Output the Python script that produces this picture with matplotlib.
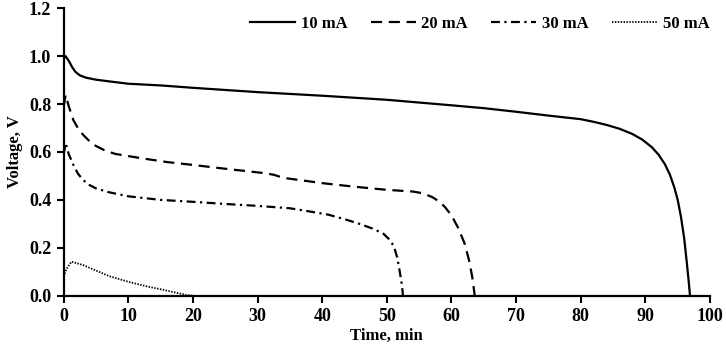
import matplotlib
matplotlib.use("Agg")
import matplotlib.pyplot as plt
from matplotlib.ticker import FormatStrFormatter, MultipleLocator

plt.rcParams['font.family'] = ['Liberation Serif', 'DejaVu Serif']
plt.rcParams['font.weight'] = 'bold'

# 10 mA
t10 = [0, 0.3, 0.8, 1.3, 1.8, 2.5, 3.5, 5, 7, 10, 15, 20, 30, 40, 50, 60, 65, 70, 75,
       80, 82, 84, 86, 88, 89.5, 91, 92, 93, 93.8, 94.5, 95, 95.5, 96, 96.4, 96.7, 96.9]
v10 = [0.99, 1.0, 0.98, 0.955, 0.935, 0.92, 0.91, 0.902, 0.895, 0.885, 0.878, 0.868,
       0.85, 0.835, 0.818, 0.795, 0.783, 0.768, 0.752, 0.737, 0.726, 0.713, 0.697,
       0.675, 0.652, 0.62, 0.59, 0.55, 0.505, 0.45, 0.40, 0.33, 0.24, 0.14, 0.06, 0.0]
# 20 mA
t20 = [0, 0.3, 0.8, 1.5, 2.2, 3, 4, 5, 6.5, 8, 12, 16, 20, 25, 31, 32.5, 34, 40, 45,
       50, 54, 55.5, 57, 58, 59, 60, 61, 62, 62.7, 63.2, 63.6]
v20 = [0.79, 0.838, 0.79, 0.733, 0.70, 0.672, 0.645, 0.625, 0.605, 0.592, 0.574, 0.558,
       0.546, 0.53, 0.512, 0.505, 0.492, 0.47, 0.455, 0.442, 0.435, 0.428, 0.412, 0.395,
       0.37, 0.335, 0.285, 0.22, 0.15, 0.08, 0.0]
# 30 mA
t30 = [0, 0.3, 0.8, 1.5, 2.2, 3, 4, 5, 7, 10, 15, 20, 25, 30, 35, 38, 41, 44, 46, 48,
       49.5, 50.5, 51.1, 51.6, 52, 52.3, 52.5]
v30 = [0.59, 0.637, 0.59, 0.546, 0.51, 0.483, 0.462, 0.448, 0.432, 0.415, 0.40, 0.392,
       0.383, 0.375, 0.365, 0.352, 0.338, 0.315, 0.298, 0.278, 0.258, 0.232, 0.205,
       0.16, 0.10, 0.05, 0.0]
# 50 mA
t50 = [0, 0.4, 1.2, 3, 5, 7, 10, 13, 15, 17, 19, 20]
v50 = [0.08, 0.11, 0.142, 0.128, 0.105, 0.082, 0.058, 0.038, 0.027, 0.015, 0.003, 0.0]

labels = ['10 mA', '20 mA', '30 mA', '50 mA']
xticks = list(range(0, 101, 10))

fig = plt.figure(figsize=(7.26, 3.46), dpi=100)
ax = fig.add_axes([0.0877, 0.1454, 0.978 - 0.0877, 0.976 - 0.1454])

ax.plot(t10, v10, color='black', lw=1.6, label=labels[0])
ax.plot(t20, v20, color='black', lw=1.6, dashes=(5, 3), label=labels[1])
ax.plot(t30, v30, color='black', lw=1.6, dashes=(4, 2, 1, 2), label=labels[2])
ax.plot(t50, v50, color='black', lw=1.3, dashes=(0.8, 0.8), label=labels[3])

ax.set_xlim(0, 100)
ax.set_ylim(0, 1.2)
ax.set_xticks(xticks)
ax.yaxis.set_major_locator(MultipleLocator(0.2))
ax.yaxis.set_major_formatter(FormatStrFormatter('%.1f'))

for s in ['top', 'right']:
    ax.spines[s].set_visible(False)
for s in ['left', 'bottom']:
    ax.spines[s].set_linewidth(1.6)

ax.tick_params(axis='both', direction='out', length=5, width=1.5, labelsize=13)
ax.tick_params(axis='y', pad=4)
ax.tick_params(axis='x', pad=4)
for lab in ax.get_xticklabels() + ax.get_yticklabels():
    lab.set_fontweight('bold')

ax.set_xlabel('Time, min', fontsize=12, fontweight='bold', labelpad=2)
ax.set_ylabel('Voltage, V', fontsize=12, fontweight='bold', labelpad=4)

leg = fig.legend(loc='center right', bbox_to_anchor=(718 / 726, 1 - 24 / 346),
                 ncol=4, frameon=False, fontsize=12, borderpad=0,
                 handlelength=2.7, handletextpad=0.35, columnspacing=1.4)
for txt in leg.get_texts():
    txt.set_fontweight('bold')

fig.savefig('out.png', dpi=100)
